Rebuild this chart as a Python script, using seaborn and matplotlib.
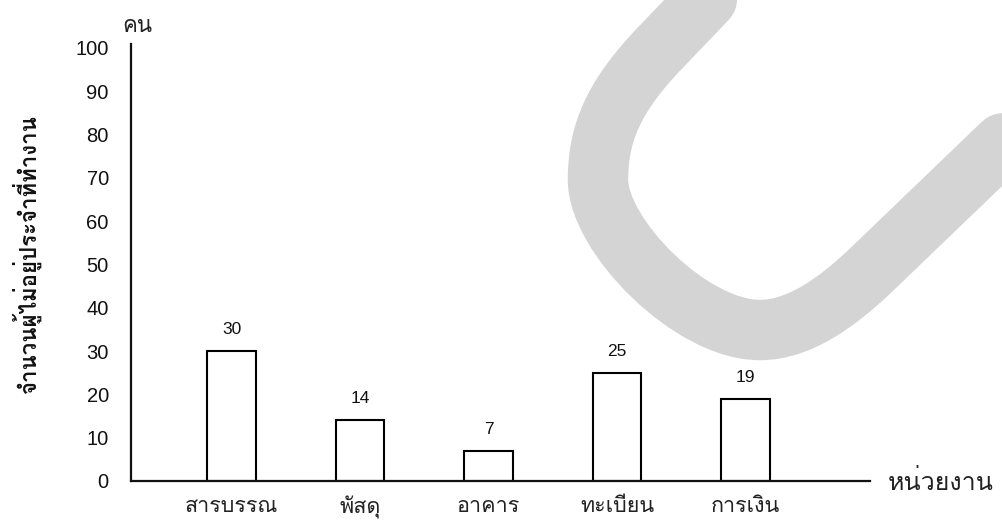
import matplotlib
matplotlib.use("Agg")
import matplotlib.pyplot as plt
from matplotlib.path import Path
from matplotlib.patches import PathPatch
from matplotlib.transforms import Affine2D
import seaborn as sns
import pandas as pd

# Absentee counts per department
departments = ["สารบรรณ", "พัสดุ", "อาคาร", "ทะเบียน", "การเงิน"]
absentees = [30, 14, 7, 25, 19]
y_ticks = [0, 10, 20, 30, 40, 50, 60, 70, 80, 90, 100]

y_title = "จำนวนผู้ไม่อยู่ประจำที่ทำงาน"
y_unit = "คน"
x_title = "หน่วยงาน"

df = pd.DataFrame({"department": departments, "count": absentees})

sns.set_theme(style="white")
thai = ["Loma", "Noto Sans Thai Looped", "DejaVu Sans"]
digits = ["Liberation Sans", "DejaVu Sans"]
plt.rcParams["font.family"] = digits

W, H = 1002, 524
fig = plt.figure(figsize=(W / 100, H / 100), dpi=100)
ax = fig.add_axes([131 / W, (H - 481) / H, (870 - 131) / W, (481 - 44) / H])
ax.patch.set_alpha(0)

sns.barplot(data=df, x="department", y="count", ax=ax, width=0.377,
            color="white", edgecolor="black", linewidth=1.5, saturation=1)

ax.set_xlim(-0.782, 4.969)
ax.set_ylim(0, 100.9)
ax.set_yticks(y_ticks)
ax.set_yticklabels([str(t) for t in y_ticks], fontsize=14.5, color="#111111")
ax.tick_params(axis="y", length=0, pad=16)
ax.tick_params(axis="x", length=0, pad=11)
ax.set_xticks(range(len(departments)))
ax.set_xticklabels(departments, family=thai, fontsize=15.5, color="#222222")
ax.set_xlabel("")
ax.set_ylabel("")

for side in ("top", "right"):
    ax.spines[side].set_visible(False)
for side in ("left", "bottom"):
    ax.spines[side].set_linewidth(1.6)
    ax.spines[side].set_color("#111111")

ax.bar_label(ax.containers[0], labels=[str(v) for v in absentees],
             padding=10, fontsize=12.5, color="#111111")

# Axis annotations
fig.text(137 / W, 1 - 26 / H, y_unit, family=thai, fontsize=16,
         ha="center", va="center", color="#222222")
fig.text(888 / W, 1 - 482 / H, x_title, family=thai, fontsize=18,
         ha="left", va="center", color="#222222")
fig.text(26 / W, 1 - 254 / H, y_title, family=thai, fontsize=16,
         fontweight="bold", rotation=90, ha="center", va="center",
         color="#111111")

# Grey curved stroke in the upper right (figure pixel coordinates, y down)
to_px = Affine2D().scale(1, -1).translate(0, H)
verts = [(727, -22), (660, 48),
         (612, 98), (598, 135), (598, 180),
         (598, 235), (690, 330), (760, 330),
         (800, 330), (838, 301), (868, 273),
         (1045, 103)]
codes = [Path.MOVETO, Path.LINETO,
         Path.CURVE4, Path.CURVE4, Path.CURVE4,
         Path.CURVE4, Path.CURVE4, Path.CURVE4,
         Path.CURVE4, Path.CURVE4, Path.CURVE4,
         Path.LINETO]
stroke = PathPatch(Path(verts, codes), facecolor="none", edgecolor="#d4d4d4",
                   linewidth=43.5, capstyle="round", joinstyle="round",
                   transform=to_px, zorder=0)
fig.patches.append(stroke)

fig.savefig("out.png", dpi=100, facecolor="white")
